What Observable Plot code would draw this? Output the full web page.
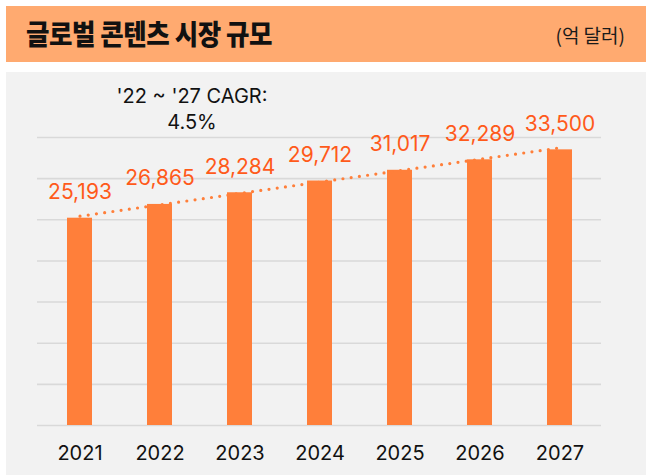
<!DOCTYPE html>
<html>
<head>
<meta charset="utf-8">
<script src="https://cdn.jsdelivr.net/npm/d3@7"></script>
<script src="https://cdn.jsdelivr.net/npm/@observablehq/plot@0.6"></script>
<style>
  html, body { margin: 0; padding: 0; background: #ffffff; }
  body { width: 646px; height: 475px; position: relative; overflow: hidden; }
  #header { position: absolute; left: 6px; top: 6px; width: 640px; height: 56px; background: #FFAA70; }
  #title { position: absolute; left: 20px; top: 9px; font-family: "Noto Sans CJK KR", sans-serif; font-weight: 900; font-size: 28px; line-height: 36px; color: #111; white-space: nowrap; transform: scaleX(0.91); transform-origin: left center; letter-spacing: -0.5px; }
  #unit { position: absolute; right: 21px; top: 16px; font-family: "Noto Sans CJK KR", sans-serif; font-size: 19px; line-height: 26px; color: #1a1a1a; white-space: nowrap; }
  #panel { position: absolute; left: 6px; top: 72px; width: 640px; height: 403px; background: #f2f2f2; }
  #cagr { position: absolute; left: 86px; top: 11px; width: 200px; text-align: center; font-family: Inter, sans-serif; font-size: 20px; line-height: 26px; color: #111; }
  #chart { position: absolute; left: 0; top: 0; }
</style>
</head>
<body>
<div id="header">
  <div id="title">글로벌 콘텐츠 시장 규모</div>
  <div id="unit">(억 달러)</div>
</div>
<div id="panel">
  <div id="chart"></div>
  <div id="cagr">'22 ~ '27 CAGR:<br>4.5%</div>
</div>
<script>
const years = ["2021", "2022", "2023", "2024", "2025", "2026", "2027"];
const values = [25193, 26865, 28284, 29712, 31017, 32289, 33500];
const gridTicks = [0, 5000, 10000, 15000, 20000, 25000, 30000, 35000];

const data = years.map((y, i) => ({year: y, value: values[i]}));
const trend = [data[0], data[data.length - 1]];
const fmt = d3.format(",");

const chart = Plot.plot({
  width: 640,
  height: 403,
  marginLeft: 31,
  marginRight: 45,
  marginTop: 65,
  marginBottom: 50,
  style: {background: "transparent", fontFamily: "Inter, sans-serif"},
  x: {domain: years, paddingInner: 0.69, paddingOuter: 0.345, axis: null},
  y: {domain: [0, 35000], axis: null},
  marks: [
    Plot.ruleY(gridTicks, {stroke: "#d9d9d9", strokeWidth: 1.6}),
    Plot.barY(data, {x: "year", y: "value", fill: "#FF7F3A"}),
    Plot.line(trend, {x: "year", y: "value", stroke: "#FF7F3A", strokeWidth: 3.2, strokeDasharray: "0 8.3", strokeLinecap: "round", dy: -2}),
    Plot.text(data, {x: "year", y: "value", text: d => fmt(d.value), fill: "#FF5A1A", fontSize: 21, lineAnchor: "bottom", dy: -19}),
    Plot.axisX({tickSize: 0, tickPadding: 20, fontSize: 20, fill: "#111", label: null})
  ]
});
document.getElementById("chart").appendChild(chart);
</script>
</body>
</html>
